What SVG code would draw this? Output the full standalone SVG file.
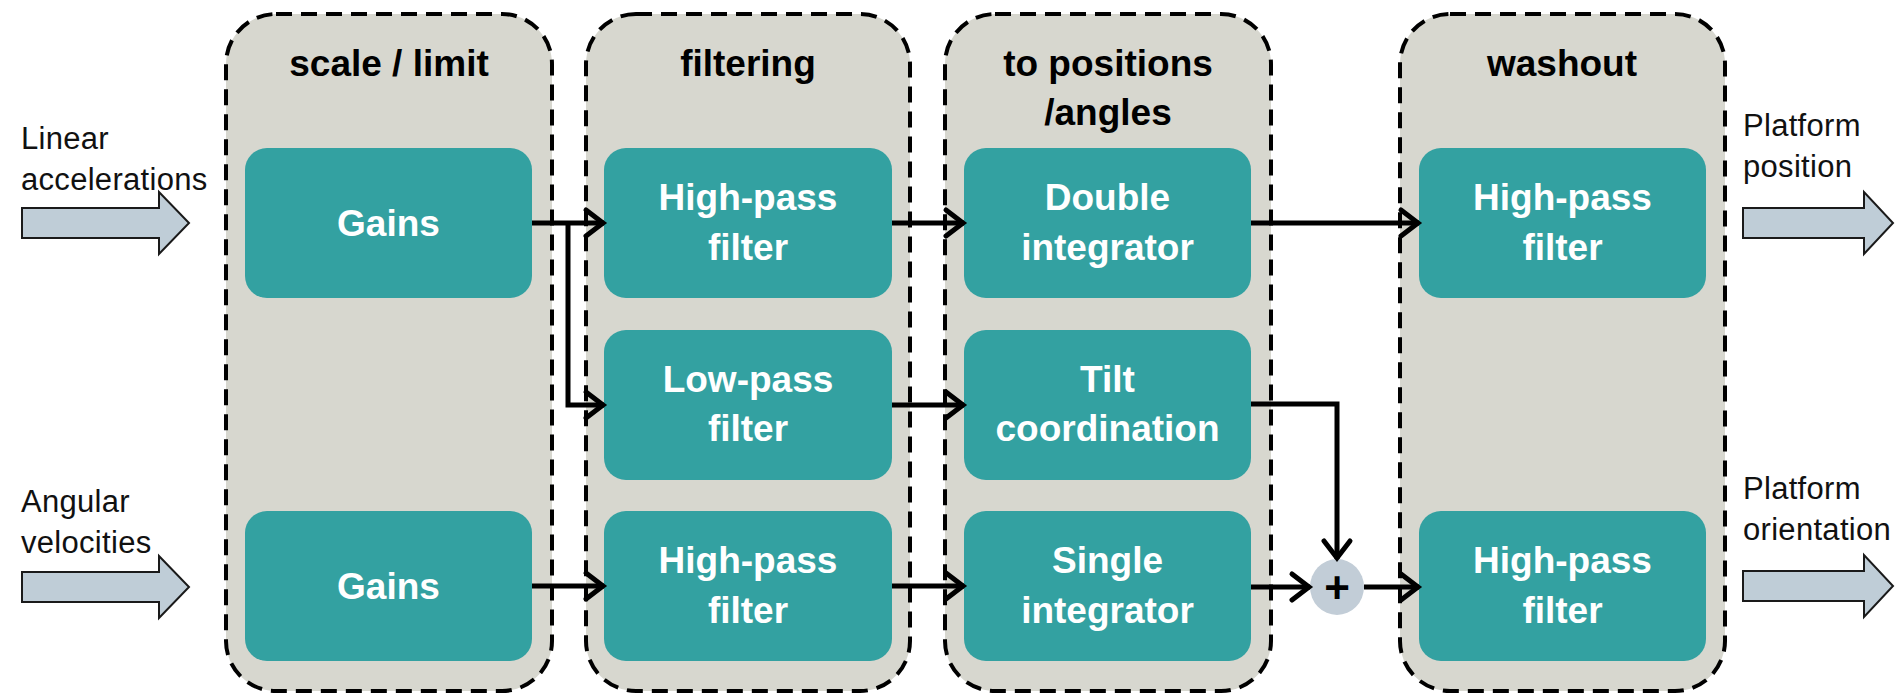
<svg xmlns="http://www.w3.org/2000/svg" width="1895" height="694" viewBox="0 0 1895 694">
<style>
.stage{fill:#D7D7CF;stroke:#000;stroke-width:4;stroke-dasharray:16 9}
.box{fill:#33A1A1}
.bt{font-family:"Liberation Sans",Arial,sans-serif;font-weight:bold;font-size:37px;fill:#fff;text-anchor:middle}
.ht{font-family:"Liberation Sans",Arial,sans-serif;font-weight:bold;font-size:37px;fill:#000;text-anchor:middle}
.lt{font-family:"Liberation Sans",Arial,sans-serif;font-size:31px;letter-spacing:0.3px;fill:#111}
.io{fill:#BFCDD7;stroke:#1a1a1a;stroke-width:2}
.conn{fill:none;stroke:#000;stroke-width:5;marker-end:url(#ah)}
</style>
<defs>
<marker id="ah" markerUnits="userSpaceOnUse" markerWidth="34" markerHeight="34" viewBox="0 0 34 34" refX="29" refY="17" orient="auto">
<path d="M11,4 L28,17 L11,30" fill="none" stroke="#000" stroke-width="5" stroke-linecap="round"/>
</marker>
</defs>

<g id="stage-scale">
<rect class="stage" x="226" y="14" width="326" height="677" rx="50"/>
<text class="ht" x="389" y="76">scale / limit</text>
</g>
<g id="stage-filtering">
<rect class="stage" x="586" y="14" width="324" height="677" rx="50"/>
<text class="ht" x="748" y="76">filtering</text>
</g>
<g id="stage-positions">
<rect class="stage" x="945" y="14" width="326" height="677" rx="50"/>
<text class="ht" x="1108" y="76">to positions</text>
<text class="ht" x="1108" y="125">/angles</text>
</g>
<g id="stage-washout">
<rect class="stage" x="1400" y="14" width="325" height="677" rx="50"/>
<text class="ht" x="1562" y="76">washout</text>
</g>

<g id="in-linear">
<polygon class="io" points="22,208 159,208 159,192 189,223 159,254 159,238 22,238"/>
<text class="lt" x="21" y="149">Linear</text>
<text class="lt" x="21" y="190">accelerations</text>
</g>
<g id="in-angular">
<polygon class="io" points="22,572 159,572 159,556 189,587 159,618 159,602 22,602"/>
<text class="lt" x="21" y="512">Angular</text>
<text class="lt" x="21" y="553">velocities</text>
</g>
<g id="out-position">
<polygon class="io" points="1743,208 1864,208 1864,192 1893,223 1864,254 1864,238 1743,238"/>
<text class="lt" x="1743" y="136">Platform</text>
<text class="lt" x="1743" y="177">position</text>
</g>
<g id="out-orientation">
<polygon class="io" points="1743,571 1864,571 1864,555 1893,586 1864,617 1864,601 1743,601"/>
<text class="lt" x="1743" y="499">Platform</text>
<text class="lt" x="1743" y="540">orientation</text>
</g>

<g id="gains-linear">
<rect class="box" x="245" y="148" width="287" height="150" rx="22"/>
<text class="bt" x="388.5" y="236">Gains</text>
</g>
<g id="gains-angular">
<rect class="box" x="245" y="511" width="287" height="150" rx="22"/>
<text class="bt" x="388.5" y="599">Gains</text>
</g>
<g id="hp-linear">
<rect class="box" x="604" y="148" width="288" height="150" rx="22"/>
<text class="bt" x="748" y="210">High-pass</text>
<text class="bt" x="748" y="260">filter</text>
</g>
<g id="lp-linear">
<rect class="box" x="604" y="330" width="288" height="150" rx="22"/>
<text class="bt" x="748" y="392">Low-pass</text>
<text class="bt" x="748" y="441">filter</text>
</g>
<g id="hp-angular">
<rect class="box" x="604" y="511" width="288" height="150" rx="22"/>
<text class="bt" x="748" y="573">High-pass</text>
<text class="bt" x="748" y="623">filter</text>
</g>
<g id="double-int">
<rect class="box" x="964" y="148" width="287" height="150" rx="22"/>
<text class="bt" x="1107.5" y="210">Double</text>
<text class="bt" x="1107.5" y="260">integrator</text>
</g>
<g id="tilt">
<rect class="box" x="964" y="330" width="287" height="150" rx="22"/>
<text class="bt" x="1107.5" y="392">Tilt</text>
<text class="bt" x="1107.5" y="441">coordination</text>
</g>
<g id="single-int">
<rect class="box" x="964" y="511" width="287" height="150" rx="22"/>
<text class="bt" x="1107.5" y="573">Single</text>
<text class="bt" x="1107.5" y="623">integrator</text>
</g>
<g id="washout-pos">
<rect class="box" x="1419" y="148" width="287" height="150" rx="22"/>
<text class="bt" x="1562.5" y="210">High-pass</text>
<text class="bt" x="1562.5" y="260">filter</text>
</g>
<g id="washout-ang">
<rect class="box" x="1419" y="511" width="287" height="150" rx="22"/>
<text class="bt" x="1562.5" y="573">High-pass</text>
<text class="bt" x="1562.5" y="623">filter</text>
</g>
<g id="sum">
<ellipse cx="1337" cy="587" rx="27" ry="28" fill="#C2CDD7"/>
<text x="1337" y="603" font-family="'Liberation Sans',Arial,sans-serif" font-weight="bold" font-size="44" text-anchor="middle" fill="#000">+</text>
</g>

<g id="connectors">
<path class="conn" d="M532,223 H604"/>
<path class="conn" d="M568,223 V405 H604"/>
<path class="conn" d="M892,223 H964"/>
<path class="conn" d="M892,405 H964"/>
<path class="conn" d="M532,586 H604"/>
<path class="conn" d="M892,586 H964"/>
<path class="conn" d="M1251,223 H1419"/>
<path class="conn" d="M1251,404 H1337 V559"/>
<path class="conn" d="M1251,587 H1310"/>
<path class="conn" d="M1364,587 H1419"/>
</g>
</svg>
